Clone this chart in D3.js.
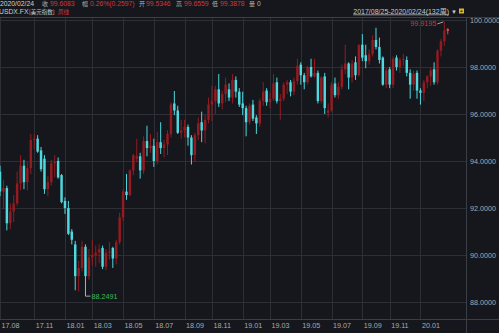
<!DOCTYPE html>
<html>
<head>
<meta charset="utf-8">
<script src="https://cdn.jsdelivr.net/npm/d3@7"></script>
<style>
  html, body { margin: 0; padding: 0; background: #15171c; }
  svg { display: block; }
</style>
</head>
<body>
<div id="chart"></div>
<script>
// Weekly USDX candles, 2017/08/25 - 2020/02/24 (132 weeks)
const startDate = new Date(Date.UTC(2017, 7, 25));
const weekCount = 132;

const opens = [
  93.55, 92.70, 92.85, 91.35, 91.85, 92.20, 93.05, 93.80, 93.10, 93.70,
  94.90, 94.95, 94.45, 94.10, 92.80, 93.10, 93.90, 94.00, 93.40, 92.30,
  92.00, 91.00, 90.45, 89.10, 89.45, 90.35, 89.10, 89.90, 90.00, 90.10,
  90.30, 89.50, 90.10, 90.30, 89.85, 90.55, 91.60, 92.70, 92.55, 93.60,
  94.10, 94.20, 93.60, 94.85, 94.55, 94.65, 94.00, 94.80, 94.55, 94.70,
  95.15, 96.45, 96.15, 95.20, 95.30, 95.45, 95.00, 94.25, 95.10, 95.65,
  95.30, 95.75, 96.40, 96.55, 97.05, 96.45, 96.85, 97.05, 96.70, 97.45,
  96.95, 96.45, 96.25, 95.65, 96.40, 95.85, 95.60, 96.55, 97.00, 96.50,
  96.65, 97.35, 96.55, 96.65, 97.25, 97.35, 96.95, 97.40, 98.10, 97.65,
  97.35, 98.00, 97.60, 97.75, 96.55, 97.60, 96.05, 96.15, 97.30, 96.80,
  97.15, 97.90, 98.15, 97.55, 98.20, 97.65, 98.95, 98.50, 98.25, 98.55,
  99.15, 98.85, 98.40, 97.25, 97.90, 97.25, 98.40, 98.00, 98.30, 98.30,
  97.75, 97.25, 97.75, 97.00, 96.90, 97.35, 97.60, 97.90, 97.35, 98.70,
  99.10, 99.5346
];
const highs = [
  93.80, 93.20, 92.95, 92.20, 92.55, 93.55, 94.25, 94.05, 93.95, 95.15,
  95.15, 95.10, 94.60, 94.25, 93.35, 94.05, 94.25, 94.15, 93.45, 92.45,
  92.30, 91.10, 90.60, 89.75, 90.60, 90.45, 90.25, 90.65, 90.40, 90.45,
  90.40, 90.25, 90.55, 90.35, 90.65, 91.80, 92.80, 93.45, 93.65, 94.30,
  94.95, 94.35, 95.05, 95.50, 95.15, 94.95, 95.25, 95.65, 94.90, 95.30,
  96.50, 96.98, 96.35, 95.75, 95.75, 95.55, 95.10, 95.20, 95.85, 96.10,
  95.95, 96.70, 97.20, 97.20, 97.70, 97.00, 97.55, 97.30, 97.70, 97.60,
  97.10, 96.95, 96.35, 96.45, 96.60, 95.95, 96.65, 97.35, 97.10, 96.90,
  97.70, 97.55, 96.85, 97.35, 97.45, 97.45, 97.55, 98.35, 98.20, 97.75,
  98.05, 98.35, 98.35, 97.85, 97.60, 97.75, 96.45, 97.35, 97.55, 97.35,
  98.10, 98.95, 98.20, 98.30, 98.45, 98.95, 99.40, 98.95, 98.75, 99.35,
  99.67, 99.25, 98.45, 97.95, 98.00, 98.45, 98.50, 98.40, 98.55, 98.45,
  97.90, 97.85, 97.85, 97.10, 97.45, 97.65, 97.95, 98.20, 98.75, 99.20,
  99.9195, 99.6559
];
const lows = [
  92.50, 91.95, 91.05, 91.10, 91.40, 92.10, 92.75, 92.80, 92.75, 93.45,
  94.50, 94.35, 93.55, 92.60, 92.50, 92.95, 93.30, 93.25, 92.20, 91.75,
  90.85, 90.45, 88.50, 88.45, 89.30, 88.2491, 88.95, 89.55, 89.50, 89.65,
  89.40, 89.35, 89.80, 89.45, 89.60, 90.45, 91.45, 92.35, 92.50, 93.40,
  93.95, 93.25, 93.45, 94.20, 94.35, 93.75, 93.85, 94.30, 94.15, 94.25,
  95.00, 95.95, 95.15, 94.95, 95.00, 94.65, 93.85, 93.95, 94.90, 94.80,
  94.75, 95.60, 95.70, 96.00, 96.30, 96.20, 96.50, 96.55, 96.45, 96.70,
  96.30, 95.95, 95.05, 95.55, 95.70, 95.15, 95.45, 96.35, 96.35, 96.25,
  96.55, 96.45, 95.75, 96.55, 96.85, 96.75, 96.80, 97.25, 97.25, 97.05,
  97.25, 97.55, 97.55, 96.45, 96.45, 96.00, 95.85, 96.10, 96.70, 96.65,
  97.05, 97.70, 97.05, 97.35, 97.45, 97.60, 98.25, 97.95, 98.10, 98.45,
  98.75, 98.15, 97.20, 97.10, 97.10, 97.10, 97.85, 97.75, 98.05, 97.60,
  96.65, 97.00, 96.65, 96.40, 96.55, 97.10, 97.20, 97.25, 97.25, 98.45,
  98.90, 99.3878
];
const closes = [
  92.70, 92.85, 91.35, 91.85, 92.20, 93.05, 93.80, 93.10, 93.70, 94.90,
  94.95, 94.40, 93.65, 92.80, 93.10, 93.90, 93.95, 93.30, 92.25, 92.00,
  90.90, 90.65, 89.10, 89.45, 90.35, 89.10, 89.90, 90.00, 90.10, 90.25,
  89.50, 90.10, 90.15, 89.85, 90.55, 91.60, 92.70, 92.55, 93.60, 94.25,
  94.20, 93.60, 94.85, 94.55, 94.65, 94.00, 94.80, 94.55, 94.70, 95.15,
  96.40, 96.15, 95.20, 95.30, 95.45, 95.00, 94.25, 95.10, 95.60, 95.30,
  95.75, 96.40, 96.55, 97.05, 96.45, 96.85, 97.25, 96.70, 97.45, 96.95,
  96.40, 96.25, 95.65, 96.35, 95.80, 95.60, 96.55, 96.95, 96.50, 96.65,
  97.30, 96.55, 96.65, 97.25, 97.35, 96.95, 97.40, 98.05, 97.65, 97.35,
  98.00, 97.60, 97.75, 96.55, 97.55, 96.25, 96.15, 97.25, 96.80, 97.15,
  97.90, 98.15, 97.55, 98.15, 97.65, 98.95, 98.40, 98.25, 98.55, 99.15,
  98.85, 98.30, 97.25, 97.85, 97.25, 98.35, 98.00, 98.30, 98.35, 97.75,
  97.25, 97.70, 97.00, 96.90, 97.35, 97.60, 97.85, 97.35, 98.70, 99.10,
  99.55, 99.6083
];

const yTicks = [88, 90, 92, 94, 96, 98, 100];
const xTickLabels = ["17.08", "17.11", "18.01", "18.03", "18.05", "18.07", "18.09",
  "18.11", "19.01", "19.03", "19.05", "19.07", "19.09", "19.11", "20.01"];

const headerDate = "2020/02/24";
const headerNames = ["收", "幅", "开", "高", "低", "量"];
const headerValues = ["99.6083", "0.26%(0.2597)", "99.5346", "99.6559", "99.3878", "0"];
const symbolName = "USDX.FX";
const symbolTitle = "[美元指数]";
const periodName = "周线";
const rangeText = "2017/08/25-2020/02/24(132周)";

const width = 499;
const height = 333;
const plot = { left: 0, right: 466, top: 17, bottom: 319 };

const colors = {
  bg: "#15171c",
  grid: "#2c3036",
  border: "#3a3e45",
  text: "#a9abaf",
  up: "#931b21",
  upLast: "#d4505e",
  down: "#4fd8de",
  red: "#d8343c",
  green: "#3cbb5e"
};

const font = "Arial, 'Liberation Sans', 'Noto Sans CJK SC', sans-serif";
const cjkFont = "'Noto Sans CJK SC', sans-serif";

const weeks = d3.range(weekCount).map((i) => d3.utcDay.offset(startDate, i * 7));
const candles = weeks.map((date, i) => ({
  date,
  open: opens[i],
  high: highs[i],
  low: lows[i],
  close: closes[i]
}));

const svg = d3.select("#chart")
  .append("svg")
  .attr("width", width)
  .attr("height", height)
  .style("background", colors.bg);

const x = d3.scaleBand()
  .domain(weeks)
  .range([-1.2, 449])
  .paddingInner(0.28);

const y = d3.scaleLinear()
  .domain([88, 100])
  .range([302, 20]);

const monthFormat = d3.utcFormat("%y.%m");
const tickWeeks = xTickLabels
  .map((label) => ({ label, date: weeks.find((w) => monthFormat(w) === label) }))
  .filter((d) => d.date);
const cx = (date) => x(date) + x.bandwidth() / 2;

// horizontal grid
svg.append("g")
  .selectAll("line")
  .data(yTicks)
  .join("line")
  .attr("x1", plot.left)
  .attr("x2", plot.right)
  .attr("y1", (d) => Math.round(y(d)) + 0.5)
  .attr("y2", (d) => Math.round(y(d)) + 0.5)
  .attr("stroke", colors.grid);

// vertical grid
svg.append("g")
  .selectAll("line")
  .data(tickWeeks)
  .join("line")
  .attr("x1", (d) => Math.round(cx(d.date)) + 0.5)
  .attr("x2", (d) => Math.round(cx(d.date)) + 0.5)
  .attr("y1", plot.top)
  .attr("y2", plot.bottom)
  .attr("stroke", colors.grid);

// frame lines
svg.append("line")
  .attr("x1", 0).attr("x2", width)
  .attr("y1", plot.top + 0.5).attr("y2", plot.top + 0.5)
  .attr("stroke", colors.border);
svg.append("line")
  .attr("x1", 0).attr("x2", width)
  .attr("y1", plot.bottom + 0.5).attr("y2", plot.bottom + 0.5)
  .attr("stroke", colors.border);
svg.append("line")
  .attr("x1", plot.right + 0.5).attr("x2", plot.right + 0.5)
  .attr("y1", plot.top).attr("y2", height)
  .attr("stroke", colors.border);

// right axis labels
svg.append("g")
  .selectAll("text")
  .data(yTicks)
  .join("text")
  .attr("x", plot.right + 4)
  .attr("y", (d) => y(d) + 2.5)
  .attr("fill", colors.text)
  .attr("font-family", font)
  .attr("font-size", 7.2)
  .text((d) => d.toFixed(4));

// bottom axis labels
svg.append("g")
  .selectAll("text")
  .data(tickWeeks)
  .join("text")
  .attr("x", (d) => cx(d.date) + 1.5)
  .attr("y", 327.5)
  .attr("fill", colors.text)
  .attr("font-family", font)
  .attr("font-size", 7.2)
  .text((d) => d.label);

// candles
const candleGroup = svg.append("g");
candles.forEach((d, i) => {
  const up = d.close >= d.open;
  const isLast = i === candles.length - 1;
  const color = up ? (isLast ? colors.upLast : colors.up) : colors.down;
  const center = cx(d.date);

  candleGroup.append("line")
    .attr("x1", center)
    .attr("x2", center)
    .attr("y1", y(d.high))
    .attr("y2", y(d.low))
    .attr("stroke", color)
    .attr("stroke-width", 1);

  const top = y(Math.max(d.open, d.close));
  const bodyHeight = Math.max(1, Math.abs(y(d.open) - y(d.close)));
  candleGroup.append("rect")
    .attr("x", x(d.date))
    .attr("y", top)
    .attr("width", x.bandwidth())
    .attr("height", bodyHeight)
    .attr("fill", color);
});

// max / min markers
const maxIndex = d3.maxIndex(candles, (d) => d.high);
const minIndex = d3.minIndex(candles, (d) => d.low);
const maxCandle = candles[maxIndex];
const minCandle = candles[minIndex];

const maxX = cx(maxCandle.date);
const maxY = y(maxCandle.high);
svg.append("line")
  .attr("x1", maxX - 1).attr("y1", maxY)
  .attr("x2", maxX - 7).attr("y2", maxY + 2)
  .attr("stroke", "#c8c8c8")
  .attr("stroke-width", 0.8);
svg.append("text")
  .attr("x", maxX - 8)
  .attr("y", maxY + 4.5)
  .attr("text-anchor", "end")
  .attr("fill", colors.red)
  .attr("font-family", font)
  .attr("font-size", 7.2)
  .text(maxCandle.high.toFixed(4));

const minX = cx(minCandle.date);
const minY = y(minCandle.low);
svg.append("line")
  .attr("x1", minX).attr("y1", minY)
  .attr("x2", minX + 5).attr("y2", minY)
  .attr("stroke", "#c8c8c8")
  .attr("stroke-width", 0.8);
svg.append("text")
  .attr("x", minX + 6)
  .attr("y", minY + 2.5)
  .attr("fill", colors.green)
  .attr("font-family", font)
  .attr("font-size", 7.2)
  .text(minCandle.low.toFixed(4));

// header line 1 (partly cut at the top, as in the source screenshot)
const headerNameX = [42, 82, 139, 176, 212, 249];
const headerValueX = [50, 90, 146, 184, 220, 257];
const header = svg.append("g")
  .attr("font-family", font)
  .attr("font-size", 6.8);
header.append("text")
  .attr("x", 0).attr("y", 6)
  .attr("fill", "#d0d0d0")
  .text(headerDate);
headerNames.forEach((name, i) => {
  header.append("text")
    .attr("x", headerNameX[i]).attr("y", 6)
    .attr("fill", "#b0b0b0")
    .attr("font-family", cjkFont)
    .attr("font-size", 6)
    .text(name);
  header.append("text")
    .attr("x", headerValueX[i]).attr("y", 6)
    .attr("fill", i === 5 ? "#b0b0b0" : colors.red)
    .text(headerValues[i]);
});

// header line 2
header.append("text")
  .attr("x", -1).attr("y", 14)
  .attr("fill", "#d0d0d0")
  .text(symbolName);
header.append("text")
  .attr("x", 29).attr("y", 14)
  .attr("fill", "#d0d0d0")
  .attr("font-family", cjkFont)
  .attr("font-size", 5.5)
  .text(symbolTitle);
header.append("text")
  .attr("x", 58).attr("y", 14)
  .attr("fill", colors.red)
  .attr("font-family", cjkFont)
  .attr("font-size", 5.5)
  .text(periodName);

// range selector at top right
header.append("text")
  .attr("x", 449).attr("y", 13.5)
  .attr("text-anchor", "end")
  .attr("fill", "#c8c8c8")
  .attr("font-size", 7)
  .attr("text-decoration", "underline")
  .text(rangeText);
header.append("text")
  .attr("x", 451).attr("y", 13.5)
  .attr("fill", "#c8c8c8")
  .attr("font-size", 6)
  .text("▼");
header.append("rect")
  .attr("x", 459).attr("y", 8.5)
  .attr("width", 5).attr("height", 5)
  .attr("fill", "#d9b62a");
header.append("rect")
  .attr("x", 460.5).attr("y", 10.5)
  .attr("width", 2).attr("height", 1.5)
  .attr("fill", "#3a3000");
</script>
</body>
</html>
